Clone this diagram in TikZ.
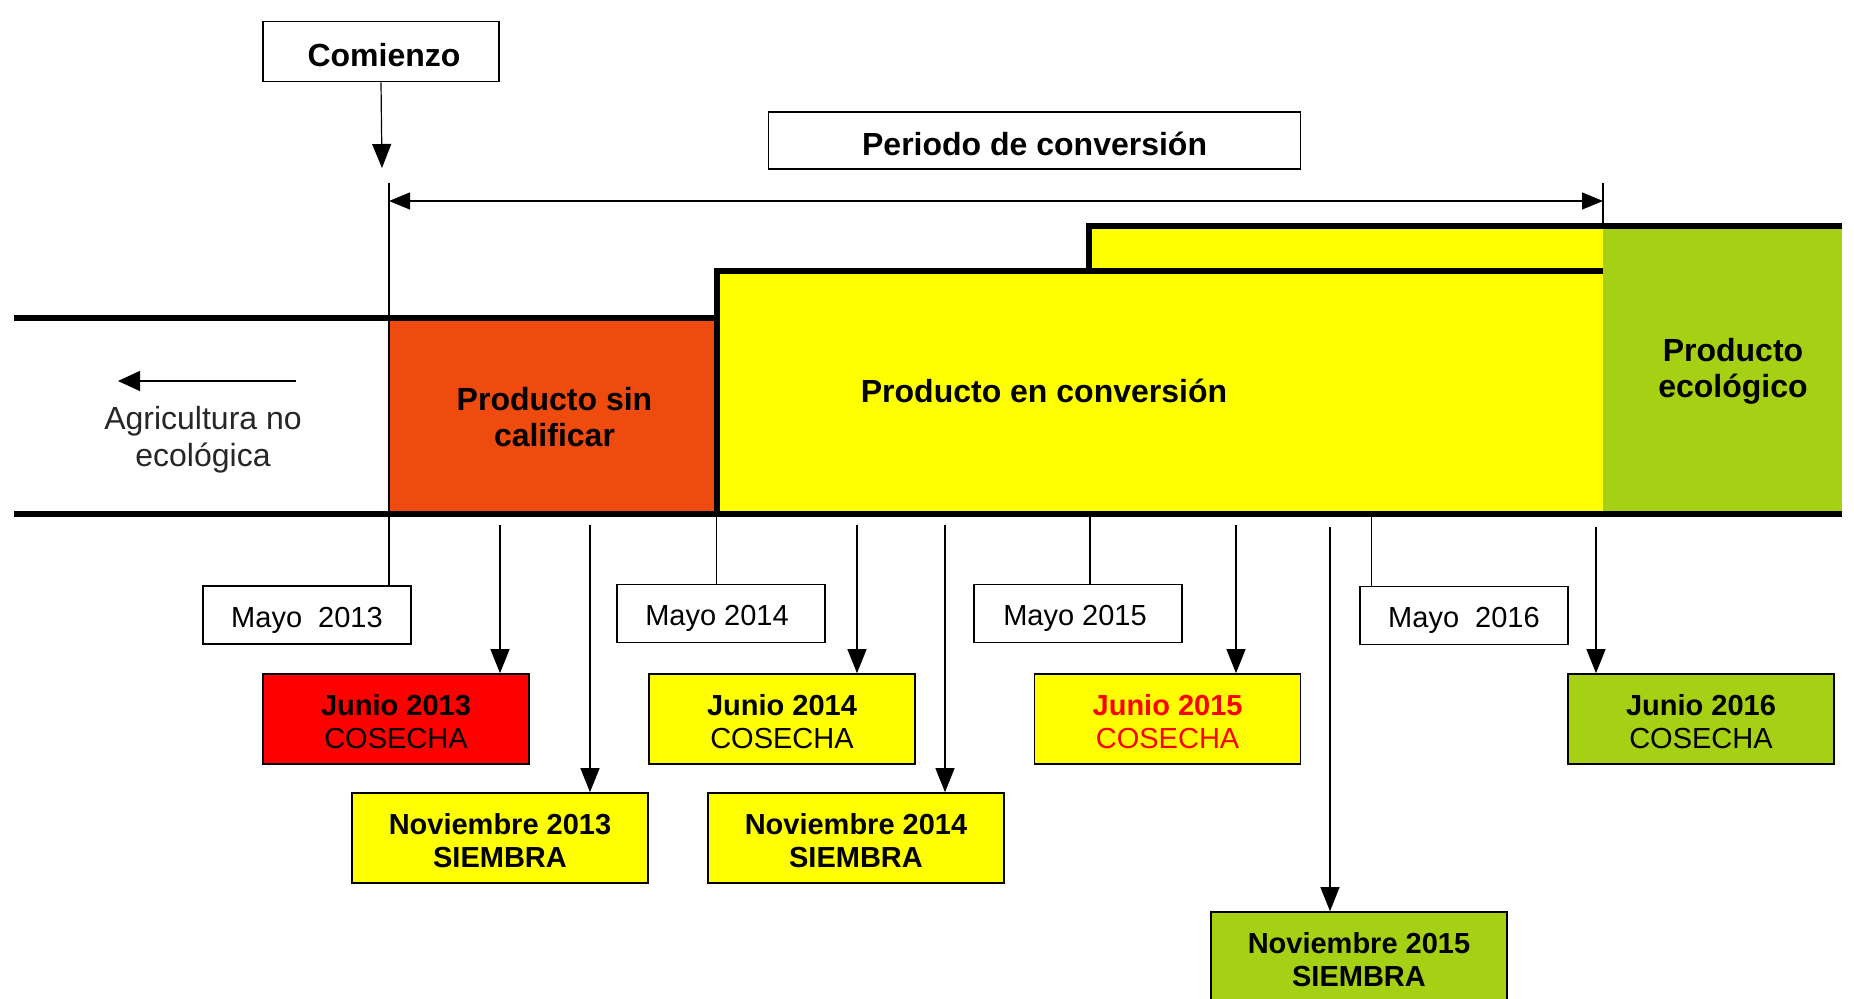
\documentclass[tikz,border=0pt]{standalone}
\usepackage{fontspec}
\setmainfont{Liberation Sans}
\usetikzlibrary{arrows.meta}
\definecolor{rojo}{RGB}{255,0,0}
\definecolor{naranja}{RGB}{240,75,15}
\definecolor{amarillo}{RGB}{255,255,0}
\definecolor{verde}{RGB}{165,208,20}
\newcommand{\liftrule}[1]{\rule{0pt}{#1}}
\begin{document}
\begin{tikzpicture}[x=0.5pt,y=-0.5pt,
  thk/.style={line width=3pt},
  thin/.style={line width=0.6pt},
  arr/.style={line width=0.6pt,-{Triangle[length=12pt,width=9.5pt]}},
  darr/.style={line width=0.6pt,{Triangle[length=10.5pt,width=8.5pt]}-{Triangle[length=10.5pt,width=8.5pt]}},
  bigbox/.style={draw,line width=0.8pt,fill=white,inner sep=0pt,align=center,text height=15pt,text depth=0pt,font=\bfseries\fontsize{16}{19}\selectfont},
  mayo/.style={draw,line width=0.8pt,fill=white,inner sep=0pt,align=center,minimum width=104pt,minimum height=29pt,text height=12.5pt,text depth=0pt,font=\fontsize{14.5}{17}\selectfont},
  evbox/.style={draw,line width=0.8pt,inner sep=0pt,align=center,minimum height=45pt,font=\fontsize{14.5}{16.5}\selectfont},
  jun/.style={evbox,minimum width=133pt},
  nov/.style={evbox,minimum width=148pt},
  region/.style={align=center,font=\bfseries\fontsize{16}{18.3}\selectfont}
]
\useasboundingbox (0,0) rectangle (1854,999);
% coloured regions
\fill[naranja] (389,318) rectangle (716.5,514);
\fill[amarillo] (716.5,514) -- (716.5,271) -- (1089,271) -- (1089,226) -- (1603,226) -- (1603,514) -- cycle;
\fill[verde] (1603,226) rectangle (1842,514);
% thick outlines
\draw[thk] (14,318) -- (716.5,318);
\draw[thk] (716.5,514) -- (716.5,271) -- (1603,271);
\draw[thk] (1089,271) -- (1089,226) -- (1842,226);
\draw[thk] (14,514) -- (1842,514);
% top boxes
\node[bigbox,minimum width=118pt,minimum height=30pt] (com) at (381,51.5) {\hspace{3pt}Comienzo};
\node[bigbox,minimum width=266pt,minimum height=28.5pt] (per) at (1034.6,140.5) {Periodo de conversión};
\coordinate (comend) at (382,168);
\draw[arr] (com.south) -- (comend);
% period arrow
\coordinate (pstart) at (389,201);
\coordinate (pend) at (1603,201);
\coordinate (ptop) at (389,183);
\coordinate (etop) at (1603,183);
\coordinate (ebot) at (1603,226);
\draw[thin] (etop) -- (ebot);
\draw[darr] (pstart) -- (pend);
% region labels
\node[region] (psc) at (554.5,417) {Producto sin\\calificar};
\node[region] (pec) at (1044,391) {Producto en conversión};
\node[region] (peco) at (1733,371.5) {Producto\\ecológico};
\node[align=center,font=\fontsize{16}{18.5}\selectfont,text=black!85] (agr) at (203,439.5) {Agricultura no\\ecológica};
\coordinate (agrA) at (296,381);
\coordinate (agrB) at (118,381);
\draw[line width=0.6pt,-{Triangle[length=11pt,width=10pt]}] (agrA) -- (agrB);
% Mayo boxes
\node[mayo] (m13) at (307,615) {Mayo\ \ 2013};
\node[mayo] (m14) at (721,613.5) {Mayo 2014\hspace{4pt}};
\node[mayo] (m15) at (1078,613.5) {Mayo 2015\hspace{3pt}};
\node[mayo] (m16) at (1464,615.5) {Mayo\ \ 2016};
\coordinate (t14) at (716.5,514);
\coordinate (t15) at (1090,514);
\coordinate (t16) at (1371.6,514);
\draw[thin] (ptop) -- (ptop |- m13.north);
\draw[thin] (t14) -- (t14 |- m14.north);
\draw[thin] (t15) -- (t15 |- m15.north);
\draw[thin] (t16) -- (t16 |- m16.north);
% event boxes
\node[jun,fill=rojo] (j13) at (396,719) {\liftrule{12.8pt}\textbf{Junio 2013}\\COSECHA};
\node[nov,fill=amarillo] (n13) at (500,838) {\liftrule{13.4pt}\textbf{Noviembre 2013}\\\textbf{SIEMBRA}};
\node[jun,fill=amarillo] (j14) at (782,719) {\liftrule{12.8pt}\textbf{Junio 2014}\\COSECHA};
\node[nov,fill=amarillo] (n14) at (856,838) {\liftrule{13.4pt}\textbf{Noviembre 2014}\\\textbf{SIEMBRA}};
\node[jun,fill=amarillo,text=rojo] (j15) at (1167.6,719) {\liftrule{12.8pt}\textbf{Junio 2015}\\COSECHA};
\node[nov,fill=verde] (n15) at (1359,957) {\liftrule{13.4pt}\textbf{Noviembre 2015}\\\textbf{SIEMBRA}};
\node[jun,fill=verde] (j16) at (1701,719) {\liftrule{12.8pt}\textbf{Junio 2016}\\COSECHA};
% event arrows
\coordinate (aj13) at (500,525);
\coordinate (an13) at (590,525);
\coordinate (aj14) at (857,525);
\coordinate (an14) at (945,525);
\coordinate (aj15) at (1236,525);
\coordinate (an15) at (1330,527);
\coordinate (aj16) at (1596,527);
\draw[arr] (aj13) -- (aj13 |- j13.north);
\draw[arr] (an13) -- (an13 |- n13.north);
\draw[arr] (aj14) -- (aj14 |- j14.north);
\draw[arr] (an14) -- (an14 |- n14.north);
\draw[arr] (aj15) -- (aj15 |- j15.north);
\draw[arr] (an15) -- (an15 |- n15.north);
\draw[arr] (aj16) -- (aj16 |- j16.north);
\end{tikzpicture}
\end{document}
